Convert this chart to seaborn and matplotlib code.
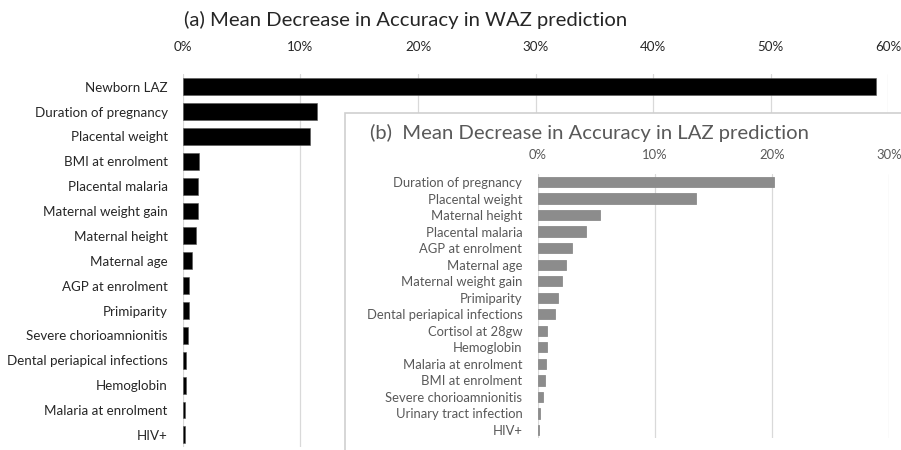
import numpy as np
import pandas as pd
import seaborn as sns
import matplotlib.pyplot as plt
from matplotlib.patches import Rectangle
from matplotlib.ticker import PercentFormatter

# (a) WAZ prediction
waz_vars = ['Newborn LAZ', 'Duration of pregnancy', 'Placental weight', 'BMI at enrolment',
            'Placental malaria', 'Maternal weight gain', 'Maternal height', 'Maternal age',
            'AGP at enrolment', 'Primiparity', 'Severe chorioamnionitis',
            'Dental periapical infections', 'Hemoglobin', 'Malaria at enrolment', 'HIV+']
waz_mda = [59.0, 11.4, 10.8, 1.4, 1.3, 1.3, 1.1, 0.75, 0.55, 0.48, 0.42, 0.28, 0.27, 0.14, 0.13]

# (b) LAZ prediction
laz_vars = ['Duration of pregnancy', 'Placental weight', 'Maternal height', 'Placental malaria',
            'AGP at enrolment', 'Maternal age', 'Maternal weight gain', 'Primiparity',
            'Dental periapical infections', 'Cortisol at 28gw', 'Hemoglobin',
            'Malaria at enrolment', 'BMI at enrolment', 'Severe chorioamnionitis',
            'Urinary tract infection', 'HIV+']
laz_mda = [20.2, 13.5, 5.3, 4.15, 2.95, 2.4, 2.05, 1.75, 1.45, 0.85, 0.82, 0.75, 0.6, 0.5, 0.2, 0.12]

waz = pd.DataFrame({'var': waz_vars, 'mda': waz_mda})
laz = pd.DataFrame({'var': laz_vars, 'mda': laz_mda})

sns.set_style('white')
plt.rcParams['font.family'] = ['Lato', 'DejaVu Sans']

fig = plt.figure(figsize=(9.01, 4.5), dpi=100)

def style_axis(ax, xmax, pad, color, size):
    ax.set_xlim(0, xmax)
    ax.xaxis.set_major_formatter(PercentFormatter(decimals=0))
    ax.set_xticks(np.arange(0, xmax + 1, 10))
    ax.xaxis.tick_top()
    ax.tick_params(axis='x', length=0, pad=pad, labelsize=size, colors=color)
    ax.tick_params(axis='y', length=0, pad=11, labelsize=size, colors=color)
    ax.grid(axis='x', color='#d9d9d9', linewidth=0.9)
    ax.set_axisbelow(True)
    for s in ax.spines.values():
        s.set_visible(False)
    ax.set_xlabel('')
    ax.set_ylabel('')

ax1 = fig.add_axes([0.2031, 0.006, 0.7825, 0.829])
sns.barplot(data=waz, x='mda', y='var', color='black', width=0.68,
            edgecolor='#555555', linewidth=0.4, ax=ax1)
style_axis(ax1, 60, 15, '#262626', 9.6)
ax1.set_zorder(0)

# white inset box
fig.patches.append(Rectangle((345 / 901, -0.05), 0.7, 0.80, transform=fig.transFigure,
                             facecolor='white', edgecolor='#cfcfcf', linewidth=1.2, zorder=1))

ax2 = fig.add_axes([0.5966, 0.026, 0.3901, 0.588])
sns.barplot(data=laz, x='mda', y='var', color='#8c8c8c', width=0.62, saturation=1,
            edgecolor='#8c8c8c', linewidth=0.6, ax=ax2)
style_axis(ax2, 30, 9, '#595959', 9.4)
ax2.patch.set_alpha(0)
ax2.set_zorder(2)

fig.text(184 / 901, 1 - 20 / 450, '(a) Mean Decrease in Accuracy in WAZ prediction',
         fontsize=14.6, color='#262626', va='center', ha='left')
fig.text(370 / 901, 1 - 133 / 450, '(b)  Mean Decrease in Accuracy in LAZ prediction',
         fontsize=14.6, color='#595959', va='center', ha='left')

fig.savefig('out.png', dpi=100)
